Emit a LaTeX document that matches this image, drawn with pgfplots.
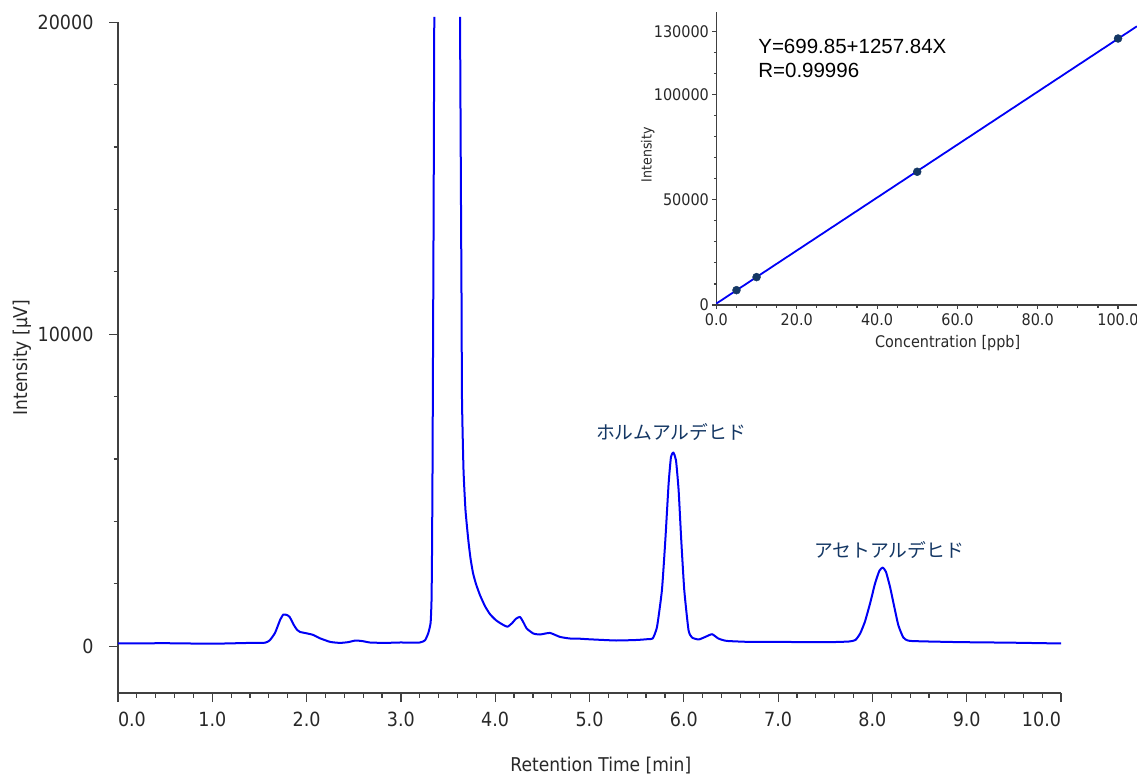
\documentclass[border=0pt]{standalone}
\usepackage{fontspec}
\setmainfont{DejaVu Sans}[FakeStretch=0.9]
\newfontfamily\eqfont{Liberation Sans}
\newfontfamily\jpfont{Noto Sans CJK JP}
\usepackage{pgfplots}
\pgfplotsset{compat=1.18}

\definecolor{trace}{RGB}{0,0,245}
\definecolor{navy}{RGB}{20,55,100}
\definecolor{axisgray}{RGB}{64,64,64}
\definecolor{txt}{RGB}{40,40,40}

\begin{document}
\begin{tikzpicture}
\path[use as bounding box] (0pt,0pt) rectangle (1137pt,-776pt);

% chromatogram
\begin{axis}[
  at={(118pt,-693pt)}, anchor=south west,
  width=943pt, height=670.8pt, scale only axis,
  xmin=0, xmax=10, ymin=-1500, ymax=20000,
  clip=false,
  scaled y ticks=false,
  axis x line*=bottom, axis y line*=left,
  axis line style={axisgray, line width=1.2pt},
  tick style={axisgray, line width=1.2pt},
  tick align=outside,
  major tick length=9pt, minor tick length=4.5pt,
  xtick={0,1,...,10},
  xticklabels={\makebox[0pt][l]{0.0},1.0,2.0,3.0,4.0,5.0,6.0,7.0,8.0,9.0,\makebox[0pt][r]{10.0}},
  minor x tick num=4,
  ytick={0,10000,20000},
  yticklabels={0,10000,20000},
  minor y tick num=4,
  tick label style={font=\fontsize{19.5}{22}\selectfont, text=txt},
  xticklabel style={yshift=-6pt},
  yticklabel style={xshift=-12pt},
  xlabel={Retention Time [min]},
  ylabel={Intensity [µV]},
  label style={font=\fontsize{19}{22}\selectfont, text=txt},
  xlabel style={at={(axis description cs:0.512,-0.1088)}, anchor=center},
  ylabel style={at={(axis description cs:-0.102,0.5)}, anchor=center, rotate=0},
]
\addplot[trace, line width=2pt, line join=round, smooth, tension=0.3, unbounded coords=jump] coordinates {
  (0,87) (0.5,96) (1.0,80) (1.4,106) (1.56,112) (1.61,192) (1.665,426)
  (1.718,833) (1.753,1016) (1.79,1000) (1.82,939) (1.866,673) (1.9,520)
  (1.93,458) (1.994,417) (2.07,362) (2.14,256) (2.25,138) (2.354,106)
  (2.44,130) (2.52,183) (2.6,160) (2.67,119) (2.83,106) (2.99,119)
  (3.20,119) (3.256,192) (3.29,417) (3.315,750) (3.325,1500) (3.33,3000)
  (3.335,5500) (3.34,9000) (3.347,14000) (3.354,20170)
  (3.5,nan)
  (3.627,20170) (3.637,14300) (3.643,11090) (3.648,7884) (3.664,5640)
  (3.685,4358) (3.715,3397) (3.738,2820) (3.765,2340) (3.797,1987)
  (3.839,1635) (3.892,1282) (3.945,1026) (4.008,833) (4.072,705)
  (4.13,625) (4.178,737) (4.22,880)
  (4.263,939) (4.30,760) (4.334,567) (4.404,407) (4.475,375) (4.58,426)
  (4.687,298) (4.793,247) (4.9,240) (4.984,224) (5.28,183) (5.5,200)
  (5.61,224) (5.67,247) (5.716,619) (5.768,1795) (5.804,3397) (5.839,5215)
  (5.864,6067) (5.889,6208) (5.917,5961) (5.945,5000) (5.973,3397)
  (6.005,1795) (6.05,513) (6.087,279) (6.157,215) (6.228,298) (6.3,385)
  (6.366,247) (6.455,170) (6.7,138) (7.0,138) (7.5,128) (7.75,150)
  (7.82,200) (7.87,407) (7.92,779) (7.975,1369) (8.028,2010) (8.073,2413)
  (8.109,2522) (8.144,2381) (8.187,1900) (8.232,1260) (8.275,673)
  (8.328,279) (8.399,170) (8.8,138) (9.0,128) (9.5,112) (10.0,87)
};
\node[text=navy, font=\jpfont\fontsize{18.8}{22}\selectfont] at (axis cs:5.864,6859) {ホルムアルデヒド};
\node[text=navy, font=\jpfont\fontsize{18.8}{22}\selectfont] at (axis cs:8.176,3077) {アセトアルデヒド};
\end{axis}

% calibration inset
\begin{axis}[
  at={(716.4pt,-305pt)}, anchor=south west,
  width=420.5pt, height=292.6pt, scale only axis,
  xmin=0, xmax=104.7, ymin=0, ymax=139000,
  clip=false,
  scaled y ticks=false, scaled x ticks=false,
  axis x line*=bottom, axis y line*=left,
  axis line style={axisgray, line width=1.1pt},
  tick style={axisgray, line width=1.1pt},
  tick align=outside,
  major tick length=4pt, minor tick length=2.5pt,
  xtick={0,20,...,100},
  xticklabels={0.0,20.0,40.0,60.0,80.0,100.0},
  minor x tick num=3,
  ytick={0,50000,100000,130000},
  yticklabels={0,50000,100000,130000},
  minor ytick={10000,20000,...,130000},
  tick label style={font=\fontsize{16}{19}\selectfont, text=txt},
  xticklabel style={yshift=-1pt},
  xlabel={Concentration [ppb]},
  ylabel={Intensity},
  xlabel style={font=\fontsize{16}{19}\selectfont, text=txt, at={(axis description cs:0.55,-0.131)}, anchor=center},
  ylabel style={font=\fontsize{14}{17}\selectfont, text=txt, at={(axis description cs:-0.163,0.513)}, anchor=center, rotate=0},
]
\addplot[trace, line width=1.8pt] coordinates {(0,699.85) (104.7,132395)};
\addplot[only marks, mark=*, mark size=4pt, navy] coordinates {
  (5,7050) (10,13250) (50,63300) (100,126600)
};
\node[anchor=west, font=\eqfont\fontsize{20.5}{24}\selectfont] at (axis description cs:0.0913,0.883) {Y=699.85+1257.84X};
\node[anchor=west, font=\eqfont\fontsize{20.5}{24}\selectfont] at (axis description cs:0.0913,0.80) {R=0.99996};
\end{axis}
\end{tikzpicture}
\end{document}
